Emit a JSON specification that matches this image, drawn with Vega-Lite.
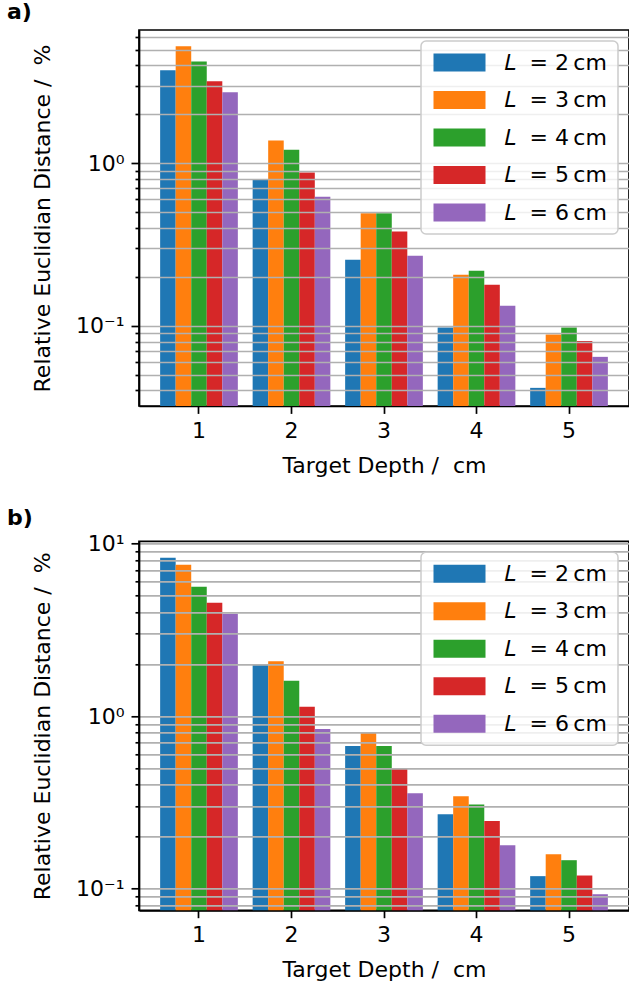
{
  "$schema": "https://vega.github.io/schema/vega-lite/v6.json",
  "padding": {"left": 6, "top": 0, "right": 0, "bottom": 0},
  "spacing": 27.3,
  "config": {
    "font": "DejaVu Sans",
    "view": {"stroke": "black", "strokeWidth": 1.7},
    "axis": {
      "domainColor": "black", "domainWidth": 1.7, "tickColor": "black", "tickWidth": 1.7,
      "labelFontSize": 22, "titleFontSize": 22, "titleFontWeight": "normal",
      "labelColor": "black", "titleColor": "black",
      "gridColor": "#b0b0b0", "gridWidth": 1.7, "gridOpacity": 1
    },
    "title": {"fontSize": 22, "fontWeight": "bold", "anchor": "start", "frame": "group", "dx": -132, "offset": 6, "color": "black"},
    "legend": {
      "orient": "top-right", "offset": 11, "title": null,
      "symbolType": "M-2.889,-1H2.889V1H-2.889Z", "symbolSize": 324, "symbolOffset": 17, "symbolStrokeWidth": 0, "symbolOpacity": 1,
      "labelFontSize": 22, "labelColor": "black", "labelOffset": 33,
      "fillColor": "rgba(255,255,255,0.8)", "strokeColor": "#cccccc", "strokeWidth": 1.5, "cornerRadius": 5,
      "padding": 10.5, "rowPadding": 15.5, "zindex": 2
    }
  },
  "datasets": {
    "pa": [
      {"depth": 1, "L": "𝐿\u00a0 = 2\u2009cm", "value": 3.73}, {"depth": 1, "L": "𝐿\u00a0 = 3\u2009cm", "value": 5.24}, {"depth": 1, "L": "𝐿\u00a0 = 4\u2009cm", "value": 4.23}, {"depth": 1, "L": "𝐿\u00a0 = 5\u2009cm", "value": 3.19}, {"depth": 1, "L": "𝐿\u00a0 = 6\u2009cm", "value": 2.73},
      {"depth": 2, "L": "𝐿\u00a0 = 2\u2009cm", "value": 0.79}, {"depth": 2, "L": "𝐿\u00a0 = 3\u2009cm", "value": 1.38}, {"depth": 2, "L": "𝐿\u00a0 = 4\u2009cm", "value": 1.21}, {"depth": 2, "L": "𝐿\u00a0 = 5\u2009cm", "value": 0.877}, {"depth": 2, "L": "𝐿\u00a0 = 6\u2009cm", "value": 0.623},
      {"depth": 3, "L": "𝐿\u00a0 = 2\u2009cm", "value": 0.255}, {"depth": 3, "L": "𝐿\u00a0 = 3\u2009cm", "value": 0.492}, {"depth": 3, "L": "𝐿\u00a0 = 4\u2009cm", "value": 0.492}, {"depth": 3, "L": "𝐿\u00a0 = 5\u2009cm", "value": 0.38}, {"depth": 3, "L": "𝐿\u00a0 = 6\u2009cm", "value": 0.27},
      {"depth": 4, "L": "𝐿\u00a0 = 2\u2009cm", "value": 0.0977}, {"depth": 4, "L": "𝐿\u00a0 = 3\u2009cm", "value": 0.206}, {"depth": 4, "L": "𝐿\u00a0 = 4\u2009cm", "value": 0.218}, {"depth": 4, "L": "𝐿\u00a0 = 5\u2009cm", "value": 0.179}, {"depth": 4, "L": "𝐿\u00a0 = 6\u2009cm", "value": 0.133},
      {"depth": 5, "L": "𝐿\u00a0 = 2\u2009cm", "value": 0.0415}, {"depth": 5, "L": "𝐿\u00a0 = 3\u2009cm", "value": 0.0884}, {"depth": 5, "L": "𝐿\u00a0 = 4\u2009cm", "value": 0.0977}, {"depth": 5, "L": "𝐿\u00a0 = 5\u2009cm", "value": 0.0805}, {"depth": 5, "L": "𝐿\u00a0 = 6\u2009cm", "value": 0.0644}
    ],
    "pb": [
      {"depth": 1, "L": "𝐿\u00a0 = 2\u2009cm", "value": 8.26}, {"depth": 1, "L": "𝐿\u00a0 = 3\u2009cm", "value": 7.52}, {"depth": 1, "L": "𝐿\u00a0 = 4\u2009cm", "value": 5.61}, {"depth": 1, "L": "𝐿\u00a0 = 5\u2009cm", "value": 4.53}, {"depth": 1, "L": "𝐿\u00a0 = 6\u2009cm", "value": 3.92},
      {"depth": 2, "L": "𝐿\u00a0 = 2\u2009cm", "value": 2.0}, {"depth": 2, "L": "𝐿\u00a0 = 3\u2009cm", "value": 2.08}, {"depth": 2, "L": "𝐿\u00a0 = 4\u2009cm", "value": 1.6}, {"depth": 2, "L": "𝐿\u00a0 = 5\u2009cm", "value": 1.13}, {"depth": 2, "L": "𝐿\u00a0 = 6\u2009cm", "value": 0.84},
      {"depth": 3, "L": "𝐿\u00a0 = 2\u2009cm", "value": 0.67}, {"depth": 3, "L": "𝐿\u00a0 = 3\u2009cm", "value": 0.8}, {"depth": 3, "L": "𝐿\u00a0 = 4\u2009cm", "value": 0.67}, {"depth": 3, "L": "𝐿\u00a0 = 5\u2009cm", "value": 0.497}, {"depth": 3, "L": "𝐿\u00a0 = 6\u2009cm", "value": 0.357},
      {"depth": 4, "L": "𝐿\u00a0 = 2\u2009cm", "value": 0.27}, {"depth": 4, "L": "𝐿\u00a0 = 3\u2009cm", "value": 0.343}, {"depth": 4, "L": "𝐿\u00a0 = 4\u2009cm", "value": 0.307}, {"depth": 4, "L": "𝐿\u00a0 = 5\u2009cm", "value": 0.246}, {"depth": 4, "L": "𝐿\u00a0 = 6\u2009cm", "value": 0.178},
      {"depth": 5, "L": "𝐿\u00a0 = 2\u2009cm", "value": 0.118}, {"depth": 5, "L": "𝐿\u00a0 = 3\u2009cm", "value": 0.158}, {"depth": 5, "L": "𝐿\u00a0 = 4\u2009cm", "value": 0.146}, {"depth": 5, "L": "𝐿\u00a0 = 5\u2009cm", "value": 0.119}, {"depth": 5, "L": "𝐿\u00a0 = 6\u2009cm", "value": 0.0927}
    ]
  },
  "vconcat": [
    {
      "title": "a)",
      "width": 490, "height": 376,
      "data": {"name": "pa"},
      "mark": {"type": "bar"},
      "encoding": {
        "x": {"field": "depth", "type": "ordinal", "scale": {"paddingInner": 0.16, "paddingOuter": 0.2285},
              "axis": {"labelAngle": 0, "tickSize": 7.4, "labelPadding": 7, "title": "Target Depth /\u00a0 cm", "titlePadding": 14, "grid": false}},
        "xOffset": {"field": "L", "type": "nominal", "sort": null},
        "y": {"field": "value", "type": "quantitative", "stack": null,
              "scale": {"type": "log", "domain": [0.0321, 6.6], "nice": false},
              "axis": {"grid": true, "zindex": 1, "title": "Relative Euclidian Distance /\u00a0 %", "titlePadding": 21, "labelPadding": 7,
                       "values": [0.04, 0.05, 0.06, 0.07, 0.08, 0.09, 0.1, 0.2, 0.3, 0.4, 0.5, 0.6, 0.7, 0.8, 0.9, 1, 2, 3, 4, 5, 6],
                       "labelExpr": "datum.value == 1 ? '10⁰' : datum.value == 0.1 ? '10⁻¹' : datum.value == 10 ? '10¹' : ''",
                       "tickSize": {"condition": {"test": "datum.value == 1 || datum.value == 0.1 || datum.value == 10", "value": 8}, "value": 4}}},
        "color": {"field": "L", "type": "nominal", "sort": null,
                  "scale": {"domain": ["𝐿\u00a0 = 2\u2009cm", "𝐿\u00a0 = 3\u2009cm", "𝐿\u00a0 = 4\u2009cm", "𝐿\u00a0 = 5\u2009cm", "𝐿\u00a0 = 6\u2009cm"], "range": ["#1f77b4", "#ff7f0e", "#2ca02c", "#d62728", "#9467bd"]}}
      }
    },
    {
      "title": {"text": "b)", "offset": 3},
      "width": 490, "height": 369,
      "data": {"name": "pb"},
      "mark": {"type": "bar"},
      "encoding": {
        "x": {"field": "depth", "type": "ordinal", "scale": {"paddingInner": 0.16, "paddingOuter": 0.2285},
              "axis": {"labelAngle": 0, "tickSize": 7.4, "labelPadding": 7, "title": "Target Depth /\u00a0 cm", "titlePadding": 14, "grid": false}},
        "xOffset": {"field": "L", "type": "nominal", "sort": null},
        "y": {"field": "value", "type": "quantitative", "stack": null,
              "scale": {"type": "log", "domain": [0.0748, 10.3], "nice": false},
              "axis": {"grid": true, "zindex": 1, "title": "Relative Euclidian Distance /\u00a0 %", "titlePadding": 21, "labelPadding": 7,
                       "values": [0.08, 0.09, 0.1, 0.2, 0.3, 0.4, 0.5, 0.6, 0.7, 0.8, 0.9, 1, 2, 3, 4, 5, 6, 7, 8, 9, 10],
                       "labelExpr": "datum.value == 1 ? '10⁰' : datum.value == 0.1 ? '10⁻¹' : datum.value == 10 ? '10¹' : ''",
                       "tickSize": {"condition": {"test": "datum.value == 1 || datum.value == 0.1 || datum.value == 10", "value": 8}, "value": 4}}},
        "color": {"field": "L", "type": "nominal", "sort": null,
                  "scale": {"domain": ["𝐿\u00a0 = 2\u2009cm", "𝐿\u00a0 = 3\u2009cm", "𝐿\u00a0 = 4\u2009cm", "𝐿\u00a0 = 5\u2009cm", "𝐿\u00a0 = 6\u2009cm"], "range": ["#1f77b4", "#ff7f0e", "#2ca02c", "#d62728", "#9467bd"]}}
      }
    }
  ],
  "resolve": {"scale": {"y": "independent", "color": "independent"}, "legend": {"color": "independent"}}
}
